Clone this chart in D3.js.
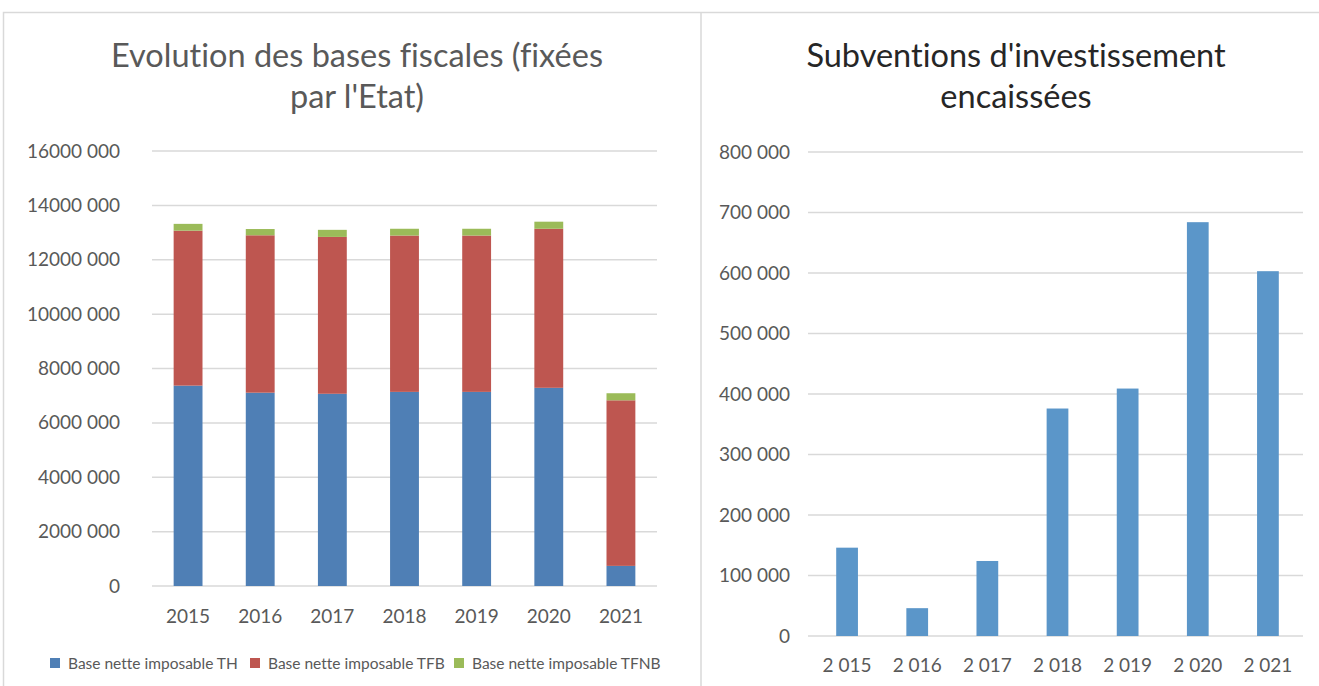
<!DOCTYPE html>
<html>
<head>
<meta charset="utf-8">
<script src="https://cdn.jsdelivr.net/npm/d3@7"></script>
<style>
  body { margin: 0; background: #fff; }
  svg { display: block; font-family: Lato, "Open Sans", sans-serif; font-variant-ligatures: none; }
</style>
</head>
<body>
<div id="chart"></div>
<script>
const width = 1319, height = 686;

// left chart data
const years = ["2015", "2016", "2017", "2018", "2019", "2020", "2021"];
const seriesNames = ["Base nette imposable TH", "Base nette imposable TFB", "Base nette imposable TFNB"];
const baseTH   = [7370000, 7110000, 7070000, 7140000, 7140000, 7290000, 740000];
const baseTFB  = [5700000, 5790000, 5770000, 5750000, 5750000, 5850000, 6090000];
const baseTFNB = [250000, 230000, 260000, 250000, 250000, 260000, 260000];
const leftTicks = [0, 2000000, 4000000, 6000000, 8000000, 10000000, 12000000, 14000000, 16000000];
const colors = ["#4F7FB5", "#BE5650", "#9BBB59"];

// right chart data
const yearsRight = ["2 015", "2 016", "2 017", "2 018", "2 019", "2 020", "2 021"];
const subventions = [146000, 46000, 124000, 376000, 409000, 684000, 603000];
const rightTicks = [0, 100000, 200000, 300000, 400000, 500000, 600000, 700000, 800000];

const svg = d3.select("#chart").append("svg")
    .attr("width", width).attr("height", height);

// frames
svg.append("path")
    .attr("d", `M3.5,${height} V12.5 H${width}`)
    .attr("fill", "none").attr("stroke", "#d9d9d9").attr("stroke-width", 1.5);
svg.append("line")
    .attr("x1", 701).attr("x2", 701).attr("y1", 12).attr("y2", height)
    .attr("stroke", "#d9d9d9").attr("stroke-width", 1.5);

// space-separated thousands: "16000 000", "800 000"
function fmtLeft(v) {
    if (v === 0) return "0";
    const th = Math.floor(v / 1000), rest = v % 1000;
    return th + " " + String(rest).padStart(3, "0");
}
const fmtRight = v => v === 0 ? "0" : d3.format(",")(v).replace(/,/g, " ");

const tickSize = "19px", titleSize = "32.5px";

// ---------- left chart ----------
{
    const top = 151, bottom = 586, left = 152, right = 657;
    const x = d3.scaleBand().domain(years).range([left, right]).paddingInner(0.6).paddingOuter(0.3);
    const y = d3.scaleLinear().domain([0, 16000000]).range([bottom, top]);

    svg.append("text").attr("x", 357).attr("y", 67).attr("text-anchor", "middle")
        .attr("fill", "#595959").style("font-size", titleSize)
        .text("Evolution des bases fiscales (fixées");
    svg.append("text").attr("x", 357).attr("y", 108).attr("text-anchor", "middle")
        .attr("fill", "#595959").style("font-size", titleSize)
        .text("par l'Etat)");

    svg.append("g").selectAll("line").data(leftTicks).enter().append("line")
        .attr("x1", left).attr("x2", right)
        .attr("y1", d => y(d)).attr("y2", d => y(d))
        .attr("stroke", "#d9d9d9").attr("stroke-width", 1.5);

    svg.append("g").selectAll("text").data(leftTicks).enter().append("text")
        .attr("x", 120).attr("y", d => y(d) + 6.5).attr("text-anchor", "end")
        .attr("fill", "#595959").style("font-size", tickSize)
        .text(fmtLeft);

    const rows = years.map((yr, i) => ({ year: yr, th: baseTH[i], tfb: baseTFB[i], tfnb: baseTFNB[i] }));
    const stacked = d3.stack().keys(["th", "tfb", "tfnb"])(rows);

    svg.append("g").selectAll("g").data(stacked).enter().append("g")
        .attr("fill", (d, i) => colors[i])
        .selectAll("rect").data(d => d).enter().append("rect")
        .attr("x", d => x(d.data.year))
        .attr("width", x.bandwidth())
        .attr("y", d => y(d[1]))
        .attr("height", d => y(d[0]) - y(d[1]));

    svg.append("g").selectAll("text").data(years).enter().append("text")
        .attr("x", d => x(d) + x.bandwidth() / 2).attr("y", 623)
        .attr("text-anchor", "middle").attr("fill", "#595959").style("font-size", tickSize)
        .text(d => d);

    // legend
    const legX = [50, 250, 454];
    const leg = svg.append("g").selectAll("g").data(seriesNames).enter().append("g")
        .attr("transform", (d, i) => `translate(${legX[i]}, 658)`);
    leg.append("rect").attr("width", 10).attr("height", 10).attr("fill", (d, i) => colors[i]);
    leg.append("text").attr("x", 18).attr("y", 10.5)
        .attr("fill", "#595959").style("font-size", "15.5px").text(d => d);
}

// ---------- right chart ----------
{
    const top = 152, bottom = 636, left = 812, right = 1303;
    const x = d3.scaleBand().domain(yearsRight).range([left, right]).paddingInner(0.69).paddingOuter(0.345);
    const y = d3.scaleLinear().domain([0, 800000]).range([bottom, top]);

    svg.append("text").attr("x", 1016).attr("y", 67).attr("text-anchor", "middle")
        .attr("fill", "#262626").style("font-size", titleSize)
        .text("Subventions d'investissement");
    svg.append("text").attr("x", 1016).attr("y", 108).attr("text-anchor", "middle")
        .attr("fill", "#262626").style("font-size", titleSize)
        .text("encaissées");

    svg.append("g").selectAll("line").data(rightTicks).enter().append("line")
        .attr("x1", left - 4).attr("x2", right)
        .attr("y1", d => y(d)).attr("y2", d => y(d))
        .attr("stroke", "#d9d9d9").attr("stroke-width", 1.5);

    svg.append("g").selectAll("text").data(rightTicks).enter().append("text")
        .attr("x", 790).attr("y", d => y(d) + 6.5).attr("text-anchor", "end")
        .attr("fill", "#595959").style("font-size", tickSize)
        .text(fmtRight);

    svg.append("g").selectAll("rect").data(subventions).enter().append("rect")
        .attr("x", (d, i) => x(yearsRight[i]))
        .attr("width", x.bandwidth())
        .attr("y", d => y(d))
        .attr("height", d => bottom - y(d))
        .attr("fill", "#5B96C9");

    svg.append("g").selectAll("text").data(yearsRight).enter().append("text")
        .attr("x", d => x(d) + x.bandwidth() / 2).attr("y", 672)
        .attr("text-anchor", "middle").attr("fill", "#595959").style("font-size", tickSize)
        .text(d => d);
}
</script>
</body>
</html>
